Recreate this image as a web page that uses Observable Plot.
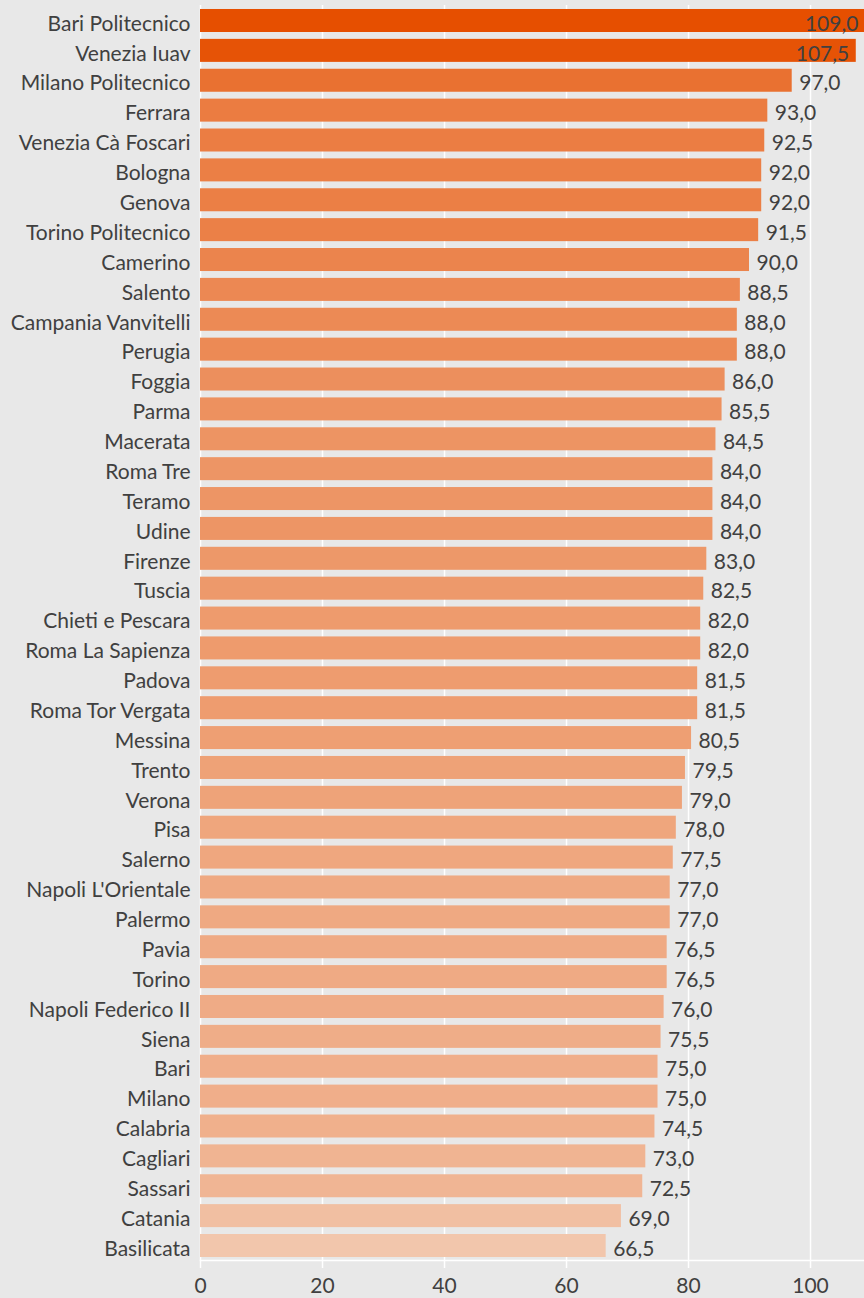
<!DOCTYPE html>
<html>
<head>
<meta charset="utf-8">
<script src="https://cdn.jsdelivr.net/npm/d3@7"></script>
<script src="https://cdn.jsdelivr.net/npm/@observablehq/plot@0.6"></script>
<style>
  html, body { margin: 0; padding: 0; background: #e8e8e8; }
  #chart { width: 864px; height: 1298px; }
</style>
</head>
<body>
<div id="chart"></div>
<script>
const universities = [
  "Bari Politecnico", "Venezia Iuav", "Milano Politecnico", "Ferrara", "Venezia Cà Foscari",
  "Bologna", "Genova", "Torino Politecnico", "Camerino", "Salento", "Campania Vanvitelli",
  "Perugia", "Foggia", "Parma", "Macerata", "Roma Tre", "Teramo", "Udine", "Firenze", "Tuscia",
  "Chieti e Pescara", "Roma La Sapienza", "Padova", "Roma Tor Vergata", "Messina", "Trento",
  "Verona", "Pisa", "Salerno", "Napoli L'Orientale", "Palermo", "Pavia", "Torino",
  "Napoli Federico II", "Siena", "Bari", "Milano", "Calabria", "Cagliari", "Sassari",
  "Catania", "Basilicata"
];
const values = [
  109.0, 107.5, 97.0, 93.0, 92.5,
  92.0, 92.0, 91.5, 90.0, 88.5, 88.0,
  88.0, 86.0, 85.5, 84.5, 84.0, 84.0, 84.0, 83.0, 82.5,
  82.0, 82.0, 81.5, 81.5, 80.5, 79.5,
  79.0, 78.0, 77.5, 77.0, 77.0, 76.5, 76.5,
  76.0, 75.5, 75.0, 75.0, 74.5, 73.0, 72.5,
  69.0, 66.5
];
const xTicks = [0, 20, 40, 60, 80, 100];

const data = universities.map((name, i) => ({name, value: values[i]}));
const fmt = v => v.toFixed(1).replace(".", ",");
const FONT = "Lato, 'Open Sans', sans-serif";
const TXT = "#404040";
const FS = 21;

const chart = Plot.plot({
  width: 864,
  height: 1298,
  marginTop: 6,
  marginBottom: 38,
  marginLeft: 200,
  marginRight: 0,
  style: {background: "#e8e8e8", fontFamily: FONT, fontSize: FS + "px", color: TXT, overflow: "hidden"},
  x: {domain: [0, 108.85], axis: null, label: null},
  y: {domain: universities, paddingInner: 0.23, paddingOuter: 0.1, axis: null, label: null},
  color: {type: "linear", domain: [66.5, 109], range: ["#f2c6ac", "#e64f00"]},
  marks: [
    Plot.ruleX(xTicks, {x: d => d, stroke: "#ffffff", strokeWidth: 1.5, insetTop: -1}),
    Plot.frame({anchor: "bottom", stroke: "#ffffff", strokeWidth: 1.5}),
    Plot.axisX({ticks: xTicks, tickSize: 8, stroke: "#ffffff", strokeWidth: 1.5, fill: TXT,
      fontSize: FS, tickPadding: 10, label: null, tickFormat: d => String(d)}),
    Plot.axisY({tickSize: 0, tickPadding: 10, fill: TXT, fontSize: FS, dy: 3, label: null}),
    Plot.barX(data, {y: "name", x: "value", fill: "value"}),
    Plot.text(data.filter(d => d.value < 100), {y: "name", x: "value", text: d => fmt(d.value),
      textAnchor: "start", dx: 7, dy: 3, fill: TXT, fontSize: FS}),
    Plot.text(data.filter(d => d.value >= 100), {y: "name", x: "value", text: d => fmt(d.value),
      textAnchor: "end", dx: -7, dy: 3, fill: TXT, fontSize: FS})
  ]
});
document.getElementById("chart").appendChild(chart);
</script>
</body>
</html>
